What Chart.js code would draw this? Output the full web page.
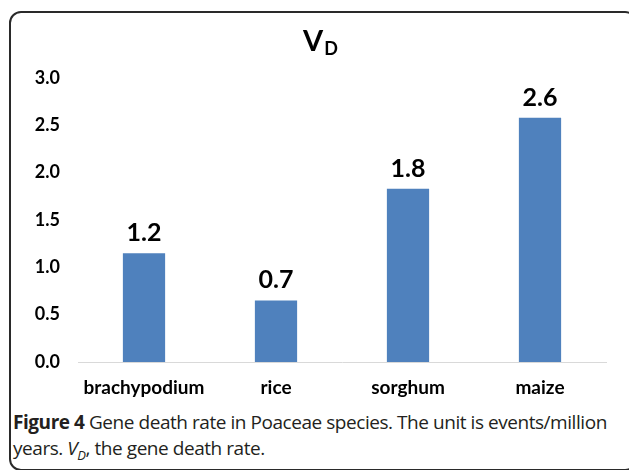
<!DOCTYPE html>
<html>
<head>
<meta charset="utf-8">
<script src="https://cdn.jsdelivr.net/npm/chart.js@4"></script>
<style>
  html, body { margin: 0; padding: 0; background: #fff; }
  body { width: 629px; height: 470px; position: relative; overflow: hidden; }
  #frame {
    position: absolute; left: 9px; top: 11px; width: 628px; height: 460px;
    border: 2px solid #2a2a2a; border-radius: 12px; box-sizing: border-box;
  }
  #chart { position: absolute; left: 0; top: 0; }
  #caption {
    position: absolute; left: 13px; top: 409px; width: 612px;
    font-family: "Open Sans", sans-serif; font-size: 19px; line-height: 26px;
    color: #231f20; letter-spacing: -0.45px;
  }
  #caption b { font-weight: 700; }
</style>
</head>
<body>
<div id="frame"></div>
<canvas id="chart" width="629" height="400"></canvas>
<div id="caption"><b>Figure 4</b> Gene death rate in Poaceae species. The unit is events/million years. <i>V<sub style="font-size:13px">D</sub></i>, the gene death rate.</div>
<script>
const species = ['brachypodium', 'rice', 'sorghum', 'maize'];
const deathRate = [1.15, 0.65, 1.83, 2.58];
const rateLabels = ['1.2', '0.7', '1.8', '2.6'];
const yTicks = [0, 0.5, 1, 1.5, 2, 2.5, 3];

const labelFont = 'Lato, "Liberation Sans", sans-serif';

// title "V" with subscript "D"
const titlePlugin = {
    id: 'subTitle',
    afterDraw(chart) {
        const ctx = chart.ctx;
        ctx.save();
        ctx.fillStyle = '#000';
        ctx.textBaseline = 'alphabetic';
        ctx.font = 'bold 29px ' + labelFont;
        const vw = ctx.measureText('V').width;
        ctx.font = 'bold 18px ' + labelFont;
        const dw = ctx.measureText('D').width;
        const x0 = 320 - (vw + dw) / 2;
        ctx.font = 'bold 29px ' + labelFont;
        ctx.fillText('V', x0, 51);
        ctx.font = 'bold 18px ' + labelFont;
        ctx.fillText('D', x0 + vw + 1, 55);
        ctx.restore();
    }
};

// value labels over the bars
const valuePlugin = {
    id: 'valueLabels',
    afterDatasetsDraw(chart) {
        const ctx = chart.ctx;
        const meta = chart.getDatasetMeta(0);
        ctx.save();
        ctx.fillStyle = '#000';
        ctx.font = 'bold 25px ' + labelFont;
        ctx.textAlign = 'center';
        ctx.textBaseline = 'alphabetic';
        meta.data.forEach((bar, i) => {
            ctx.fillText(rateLabels[i], bar.x, bar.y - 12);
        });
        ctx.restore();
    }
};

new Chart(document.getElementById('chart'), {
    type: 'bar',
    data: {
        labels: species,
        datasets: [{
            data: deathRate,
            backgroundColor: '#4f81bd',
            categoryPercentage: 1,
            barPercentage: 0.32
        }]
    },
    options: {
        responsive: false,
        animation: false,
        layout: { padding: { top: 78, right: 23, bottom: 0, left: 0 } },
        plugins: { legend: { display: false }, tooltip: { enabled: false } },
        scales: {
            x: {
                grid: { display: false, drawTicks: false },
                border: { display: true, color: '#d9d9d9', width: 1 },
                ticks: { color: '#000', padding: 14, font: { family: labelFont, size: 19, weight: 'bold' } },
                afterFit(scale) { scale.height = 38; }
            },
            y: {
                min: 0, max: 3,
                grid: { display: false, drawTicks: false },
                border: { display: false },
                afterBuildTicks(scale) { scale.ticks = yTicks.map(v => ({ value: v })); },
                ticks: {
                    color: '#000', padding: 18,
                    font: { family: labelFont, size: 18, weight: 'bold' },
                    callback: v => v.toFixed(1)
                },
                afterFit(scale) { scale.width = 78; }
            }
        }
    },
    plugins: [titlePlugin, valuePlugin]
});
</script>
</body>
</html>
